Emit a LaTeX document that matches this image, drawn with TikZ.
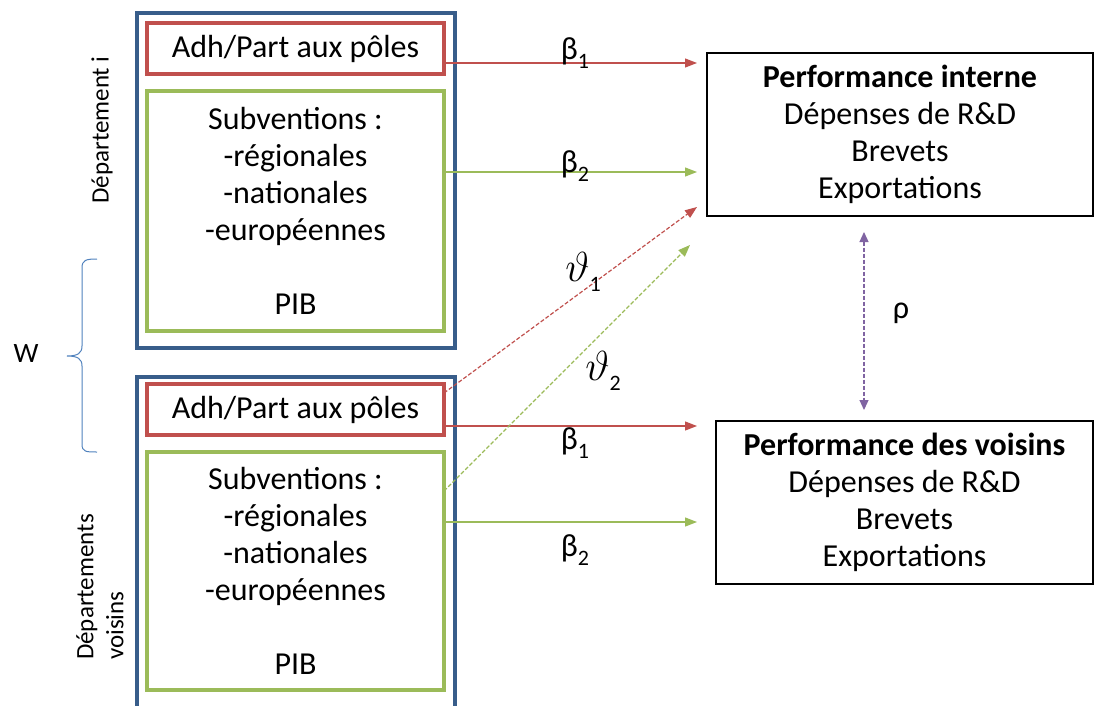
\documentclass[tikz,border=0pt]{standalone}
\usepackage{fix-cm}
\usepackage{fontspec}
\setmainfont{Carlito}
\usetikzlibrary{arrows.meta}
\definecolor{cblue}{HTML}{385D8A}
\definecolor{cred}{HTML}{C0504D}
\definecolor{cgreen}{HTML}{9BBB59}
\definecolor{cpurple}{HTML}{8064A2}
\definecolor{cbrace}{HTML}{4F81BD}
\newcommand\sbs[1]{\raisebox{-0.3em}{\fontsize{22}{22}\selectfont #1}}
\newcommand\bigtheta{{\fontsize{42}{42}\selectfont$\vartheta$}}
\begin{document}
\begin{tikzpicture}[x=1pt,y=-1pt,
 every node/.style={font=\fontsize{32}{37}\selectfont, inner sep=0pt, outer sep=0pt},
 outerbox/.style={draw=cblue, line width=4.5pt, minimum width=318pt},
 redbox/.style={draw=cred, line width=4pt, align=center, minimum width=297pt, minimum height=51pt},
 greenbox/.style={draw=cgreen, line width=4pt, align=center, minimum width=297pt},
 perfbox/.style={draw=black, line width=1.5pt, align=center, minimum height=163pt},
 sidelbl/.style={rotate=90, font=\fontsize{25}{30}\selectfont},
 arr/.style={line width=1.2pt, -{Triangle[length=12pt,width=9pt]}},
 dsh/.style={dash pattern=on 4pt off 2pt},
]
\useasboundingbox (0,0) rectangle (1094,706);
% outer blue boxes
\node[outerbox, minimum height=335pt] (blueA) at (296,180.5) {};
\node[outerbox, minimum height=339pt] (blueB) at (296,546.5) {};
% inner boxes
\node[redbox] (redA) at (295.5,48.5) {Adh/Part aux pôles};
\node[greenbox, minimum height=240pt] (greenA) at (295.5,211) {Subventions :\\-régionales\\-nationales\\-européennes\\ \\PIB};
\node[redbox] (redB) at (295.5,409.5) {Adh/Part aux pôles};
\node[greenbox, minimum height=238pt] (greenB) at (295.5,571) {Subventions :\\-régionales\\-nationales\\-européennes\\ \\PIB};
% performance boxes
\node[perfbox, minimum width=386pt] (perfI) at (900,134.5) {\textbf{Performance interne}\\Dépenses de R\&D\\Brevets\\Exportations};
\node[perfbox, minimum width=377pt] (perfV) at (904.5,502.5) {\textbf{Performance des voisins}\\Dépenses de R\&D\\Brevets\\Exportations};
% side labels
\node[sidelbl] (depi) at (102,130) {Département i};
\node[sidelbl, align=left] (depv) at (100,587) {Départements\\voisins};
\node[font=\fontsize{28}{30}\selectfont] (w) at (26,354) {W};
% brace
\draw[cbrace, line width=1pt] (97,259) .. controls (86,259) and (82,260) .. (82,268) -- (82,346) .. controls (82,353) and (78,356) .. (67,356)
  .. controls (78,356) and (82,359) .. (82,366) -- (82,444) .. controls (82,452) and (86,452) .. (97,452);
% arrow start points
\coordinate (a1) at ([yshift=-14.5pt]redA.east);
\coordinate (a2) at ([yshift=39pt]greenA.east);
\coordinate (b1) at ([yshift=-16.5pt]redB.east);
\coordinate (b2) at ([yshift=49pt]greenB.east);
\coordinate (t1) at ([yshift=16.5pt]redB.east);
\coordinate (t2) at ([yshift=80pt]greenB.east);
\coordinate (rx) at (864,0);
% arrows
\draw[arr, cred, shorten >=10pt] (a1) -- (a1 -| perfI.west);
\draw[arr, cgreen, shorten >=10pt] (a2) -- (a2 -| perfI.west);
\draw[arr, cred, shorten >=19pt] (b1) -- (b1 -| perfV.west);
\draw[arr, cgreen, shorten >=19pt] (b2) -- (b2 -| perfV.west);
\draw[arr, cred, dsh] (t1) -- ([xshift=-10pt,yshift=9pt]perfI.south west);
\draw[arr, cgreen, dsh] (t2) -- ([xshift=-17pt,yshift=-29pt]perfI.south west);
\draw[line width=1.2pt, cpurple, dsh, {Triangle[length=10pt,width=9pt]}-{Triangle[length=10pt,width=9pt]}, shorten <=16pt, shorten >=11pt] (perfI.south -| rx) -- (perfV.north -| rx);
% labels
\node (lb1) at (575,53) {β\sbs{1}};
\node (lb2) at (575,166) {β\sbs{2}};
\node (lt1) at (583,272) {\bigtheta\sbs{1}};
\node (lt2) at (603,371) {\bigtheta\sbs{2}};
\node (lb3) at (575,443) {β\sbs{1}};
\node (lb4) at (575,550) {β\sbs{2}};
\node (lr) at (901,313) {ρ};
\end{tikzpicture}
\end{document}
